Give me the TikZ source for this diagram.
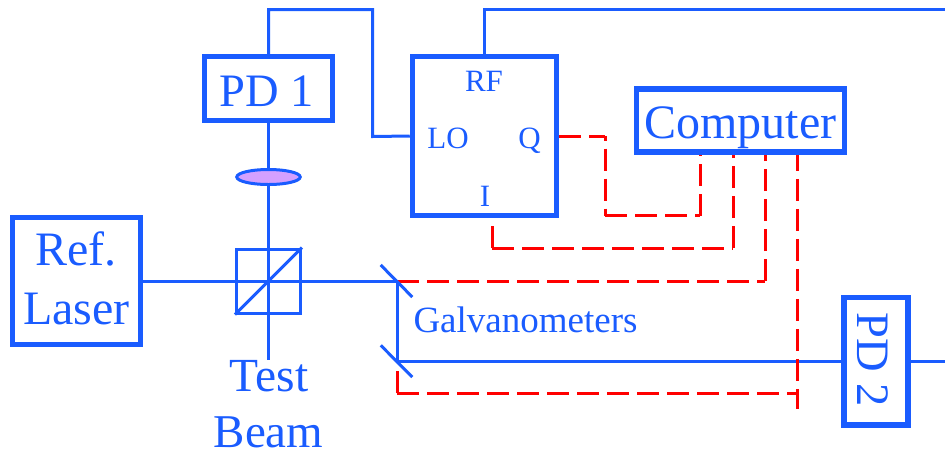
\documentclass[tikz,border=0pt]{standalone}
\usepackage{fontspec}
\setmainfont{Liberation Serif}
\usetikzlibrary{shapes.geometric}
\definecolor{beamblue}{HTML}{1A5CFF}
\definecolor{lenspurple}{HTML}{D4A0FF}
\tikzset{
    instrument/.style={draw=beamblue, line width=5.5pt, inner sep=0pt, text=beamblue},
    beam/.style={draw=beamblue, line width=3pt},
    signal/.style={draw=red, line width=3pt, dash pattern=on 22pt off 8pt},
    port/.style={text=beamblue, font=\fontsize{31}{31}\selectfont, inner sep=0pt, anchor=base},
    caption/.style={text=beamblue, inner sep=0pt, anchor=base},
}
\begin{document}
\begin{tikzpicture}[x=1pt, y=-1pt]
    \useasboundingbox (0,0) rectangle (945,451);
    % instruments
    \node[instrument, minimum width=128pt, minimum height=64pt] (pdone) at (268.5,88.5) {};
    \node[instrument, minimum width=144pt, minimum height=159pt] (mixer) at (484.5,136) {};
    \node[instrument, minimum width=208pt, minimum height=63pt] (computer) at (740.5,120.5) {};
    \node[instrument, minimum width=128pt, minimum height=127pt] (laser) at (76.5,281) {};
    \node[instrument, minimum width=64pt, minimum height=127.5pt] (pdtwo) at (876,361) {};
    % instrument labels
    \node[caption, font=\fontsize{46.5}{46.5}\selectfont] (pdonelabel) at (267,106) {PD 1};
    \node[caption, font=\fontsize{48}{48}\selectfont] (computerlabel) at (740.5,138.3) {Computer};
    \node[caption, font=\fontsize{48}{48}\selectfont] (reflabel) at (76,265) {Ref.};
    \node[caption, font=\fontsize{48}{48}\selectfont] (laserlabel) at (76.5,324) {Laser};
    \node[caption, font=\fontsize{46.5}{46.5}\selectfont, rotate=-90] (pdtwolabel) at (857,360) {PD 2};
    % mixer ports
    \node[port] (rf) at (484,91) {RF};
    \node[port] (lo) at (448,148) {LO};
    \node[port] (q) at (529.5,148) {Q};
    \node[port] (i) at (485,206.5) {I};
    % free ends and corners
    \coordinate (top) at (268.5,9.5);
    \coordinate (feed) at (945,9.5);
    \coordinate (out) at (945,361);
    \coordinate (testend) at (268.5,360);
    \coordinate (upper) at (397,281);
    \coordinate (lower) at (397,361);
    \coordinate (qbend) at (605,136);
    \coordinate (qfoot) at (605,215.5);
    \coordinate (qend) at (700,215.5);
    \coordinate (ifoot) at (492,248);
    \coordinate (iend) at (733,248);
    \coordinate (upperend) at (765,281);
    \coordinate (lowerfoot) at (397,393);
    \coordinate (lowerend) at (797,393);
    % optics
    \node[draw=beamblue, line width=3pt, minimum width=64pt, minimum height=64pt, inner sep=0pt] (cube) at (268.5,281) {};
    \draw[beam] (pdone.south) -- (testend);
    \draw[beam] (laser.east) -- (upper) -- (lower) -- (pdtwo.west);
    \draw[beam] (cube.south west) -- (cube.north east);
    \node[ellipse, draw=beamblue, fill=lenspurple, line width=3pt, minimum width=63.5pt, minimum height=15pt, inner sep=0pt] (lens) at (268.5,177) {};
    % feeds
    \draw[beam] (pdone.north) -- (top) -| (372.5,136.5) -- (mixer.west);
    \draw[beam] (mixer.north) |- (feed);
    \draw[beam] (pdtwo.east) -- (out);
    % control lines
    \draw[signal] (mixer.east) -- (qbend);
    \draw[signal, dash phase=17.3pt] (qbend) -- (qfoot);
    \draw[signal] (qfoot) -- (qend);
    \draw[signal] (qend) -- (qend |- computer.south);
    \draw[signal] (ifoot) -- (ifoot |- mixer.south);
    \draw[signal] (ifoot) -- (iend);
    \draw[signal] (iend) -- (iend |- computer.south);
    \draw[signal] (upper) -- (upperend);
    \draw[signal] (upperend) -- (upperend |- computer.south);
    \draw[signal] (lowerfoot) -- (lower);
    \draw[signal] (lowerfoot) -- (lowerend);
    \draw[signal, dash phase=6pt] (lowerend |- computer.south) -- (797,409);
    % galvanometer mirrors
    \draw[beam] (380.7,265) -- (412.3,297);
    \draw[beam] (380.7,345.3) -- (412.3,377);
    % labels
    \node[caption, font=\fontsize{37}{37}\selectfont] (galvo) at (525.5,332.7) {Galvanometers};
    \node[caption, font=\fontsize{47.5}{47.5}\selectfont] (test) at (269,391.7) {Test};
    \node[caption, font=\fontsize{47}{47}\selectfont] (beamlabel) at (268.5,447.5) {Beam};
\end{tikzpicture}
\end{document}
